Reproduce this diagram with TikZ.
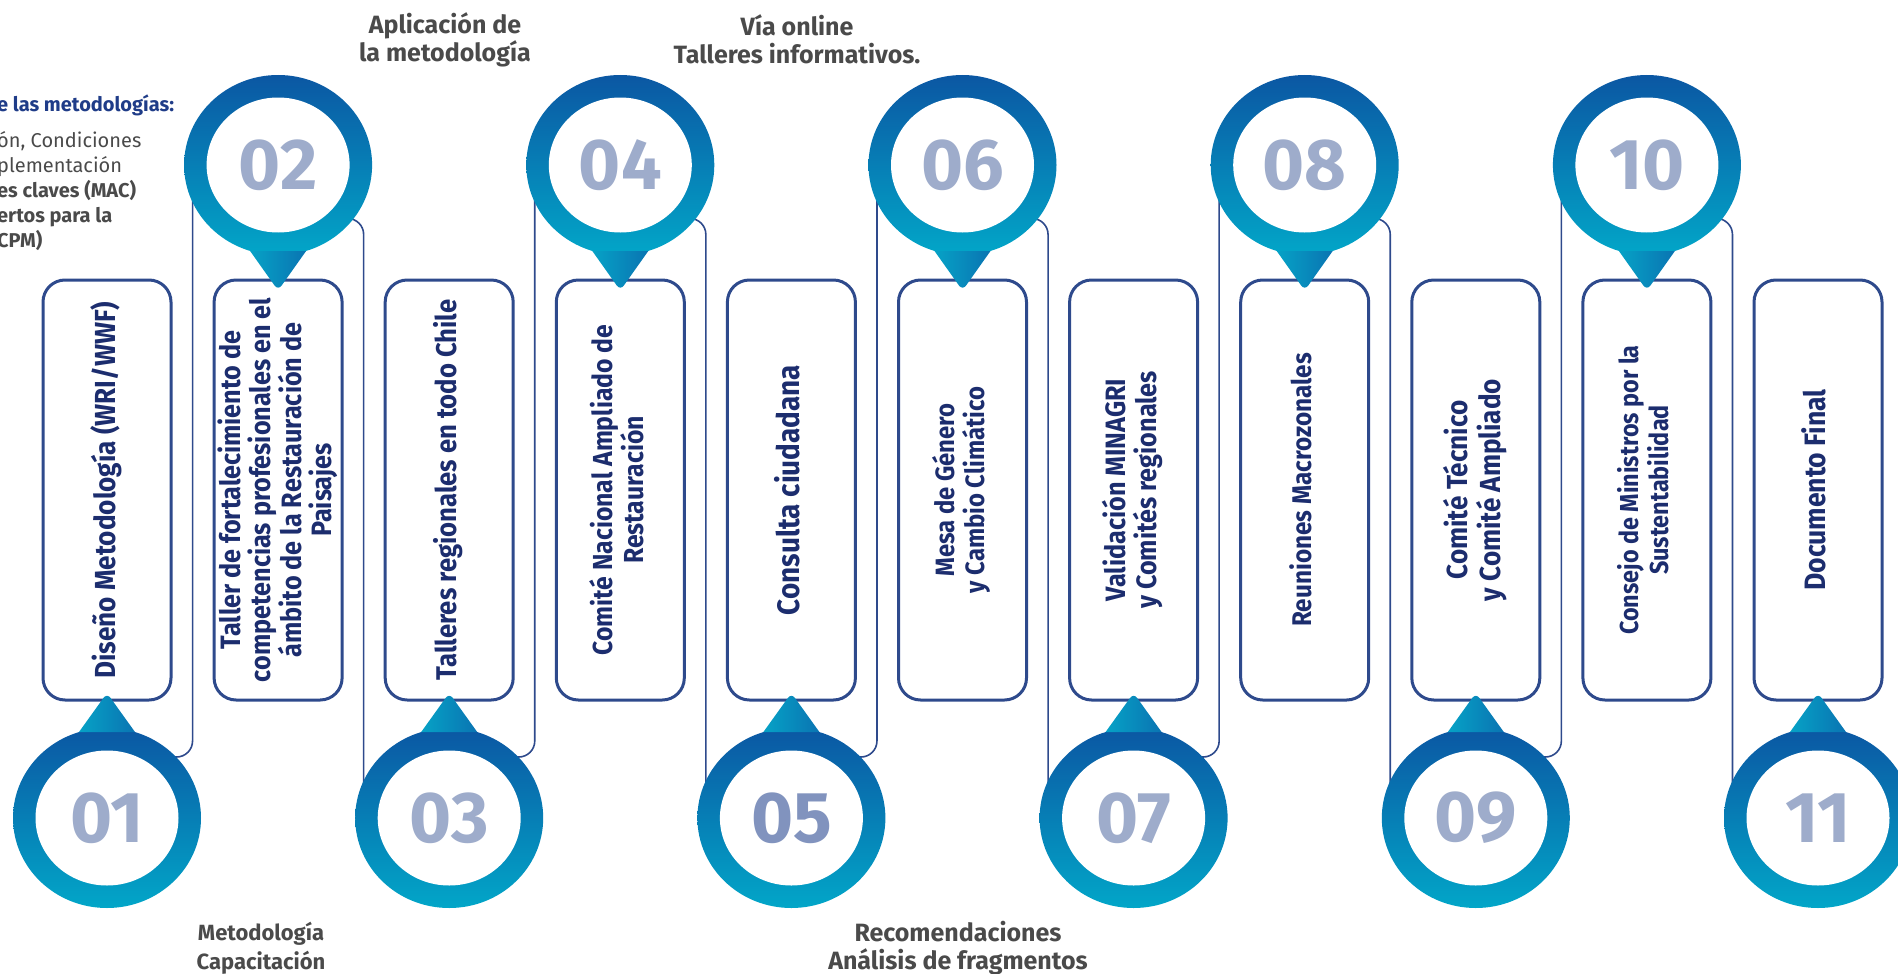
\documentclass[tikz,border=0pt]{standalone}
\usepackage{fontspec}
\usepackage{graphicx}
\setmainfont{Fira Sans}
\newfontfamily\narrowfont[FakeStretch=0.9]{Fira Sans}
\usetikzlibrary{positioning,shapes.geometric,backgrounds,calc}
\definecolor{boxline}{HTML}{2E4A8C}
\definecolor{boxtext}{HTML}{1C2D6E}
\definecolor{ringtop}{HTML}{0B57A3}
\definecolor{ringbot}{HTML}{02A6C8}
\definecolor{tipleft}{HTML}{06A2C6}
\definecolor{tipright}{HTML}{0A74B2}
\definecolor{numgray}{HTML}{9EACCB}
\definecolor{numdark}{HTML}{8193BE}
\definecolor{notegray}{HTML}{4A4A4A}
\definecolor{notenavy}{HTML}{1F3C88}
\newcommand{\vtext}[1]{\rotatebox{90}{\begin{tabular}{@{}c@{}}#1\end{tabular}}}
\newcommand{\bsz}[2]{\narrowfont\bfseries\fontsize{#1}{#2}\selectfont}

\begin{document}
\begin{tikzpicture}[x=1pt,y=-1pt,node distance=171.1pt,on grid,
    stepbox/.style={draw=boxline,line width=3pt,rounded corners=22pt,minimum width=128pt,
      minimum height=420pt,inner sep=0pt,text=boxtext,font=\bsz{28}{27}},
    numring/.style={ellipse,fill=white,minimum width=143pt,minimum height=135pt,inner sep=0pt,
      text=numgray,font=\bfseries\fontsize{72}{72}\selectfont},
    ring/.style={top color=ringtop,bottom color=ringbot},
    tip/.style={left color=tipleft,right color=tipright},
    link/.style={draw=boxline,line width=1.6pt,rounded corners=16pt},
    note/.style={align=center,text=notegray,font=\bfseries\fontsize{25}{28}\selectfont}]
    \useasboundingbox (0,0) rectangle (1898,974);
    \node[stepbox,font=\bsz{29}{27}] (b1) at (107,490) {\vtext{Diseño Metodología (WRI/WWF)}};
    \node[stepbox,font=\bsz{28}{24.5}] (b2) [right=of b1] {\vtext{Taller de fortalecimiento de\\competencias profesionales en el\\ámbito de la Restauración de\\Paisajes}};
    \node[stepbox,font=\bsz{28.5}{27}] (b3) [right=of b2] {\vtext{Talleres regionales en todo Chile}};
    \node[stepbox,font=\bsz{27.5}{27}] (b4) [right=of b3] {\vtext{Comité Nacional Ampliado de\\Restauración}};
    \node[stepbox,font=\bsz{31}{27}] (b5) [right=of b4] {\vtext{Consulta ciudadana}};
    \node[stepbox,font=\bsz{26.5}{25.5}] (b6) [right=of b5] {\vtext{Mesa de Género\\y Cambio Climático}};
    \node[stepbox,font=\bsz{28}{27}] (b7) [right=of b6] {\vtext{Validación MINAGRI\\y Comités regionales}};
    \node[stepbox,font=\bsz{27}{27}] (b8) [right=of b7] {\vtext{Reuniones Macrozonales}};
    \node[stepbox,font=\bsz{29}{27}] (b9) [right=of b8] {\vtext{Comité Técnico\\y Comité Ampliado}};
    \node[stepbox,font=\bsz{26}{27.5}] (b10) [right=of b9] {\vtext{Consejo de Ministros por la\\Sustentabilidad}};
    \node[stepbox,font=\bsz{29.5}{27}] (b11) [right=of b10] {\vtext{Documento Final}};
    \node[numring] (c1) [below=328pt of b1] {01};
    \node[numring] (c2) [above=325pt of b2] {02};
    \node[numring] (c3) [below=328pt of b3] {03};
    \node[numring] (c4) [above=325pt of b4] {04};
    \node[numring,text=numdark] (c5) [below=328pt of b5] {05};
    \node[numring] (c6) [above=325pt of b6] {06};
    \node[numring] (c7) [below=328pt of b7] {07};
    \node[numring] (c8) [above=325pt of b8] {08};
    \node[numring] (c9) [below=328pt of b9] {09};
    \node[numring] (c10) [above=325pt of b10] {10};
    \node[numring] (c11) [below=328pt of b11] {11};
    \foreach \i in {1,3,...,11}
        \shade[tip] (c\i.center) ++(-28,-86) [rounded corners=6pt] -- ++(28,-39) [sharp corners] -- ++(28,39) -- cycle;
    \foreach \i in {2,4,...,10}
        \shade[tip] (c\i.center) ++(-28,86) [rounded corners=6pt] -- ++(28,39.5) [sharp corners] -- ++(28,-39.5) -- cycle;
    \begin{scope}[on background layer]
        \foreach \i/\j in {1/2,3/4,5/6,7/8,9/10}
            \draw[link] (c\i.center) ++(0,-61) -| ($(c\i.center)!.5!(c\j.center)$) |- (c\j.center);
        \foreach \i/\j in {2/3,4/5,6/7,8/9,10/11}
            \draw[link] (c\i.center) ++(0,53.5) -| ($(c\i.center)!.5!(c\j.center)$) |- (c\j.center);
        \foreach \i in {1,...,11}
            \shade[ring] (c\i.center) ellipse[x radius=94pt,y radius=90pt];
    \end{scope}
    \node[note] (top1) at (445,39.5) {Aplicación de\\la metodología};
    \node[note] (top2) at (797,39.5) {Vía online\\Talleres informativos.};
    \node[note,font=\bfseries\fontsize{22}{29}\selectfont] (bot1) at (261,948) {Metodología\\Capacitación};
    \node[note] (bot2) at (958,948) {Recomendaciones\\Análisis de fragmentos};
    \node[anchor=north west,align=left,inner sep=0pt,text=notegray,font=\fontsize{20}{25}\selectfont] (intro) at (-3,95)
        {{\color{notenavy}\bfseries e las metodologías:}\\[11pt]ón, Condiciones\\plementación\\\textbf{es claves (MAC)}\\\textbf{ertos para la}\\\textbf{CPM)}};
\end{tikzpicture}
\end{document}
